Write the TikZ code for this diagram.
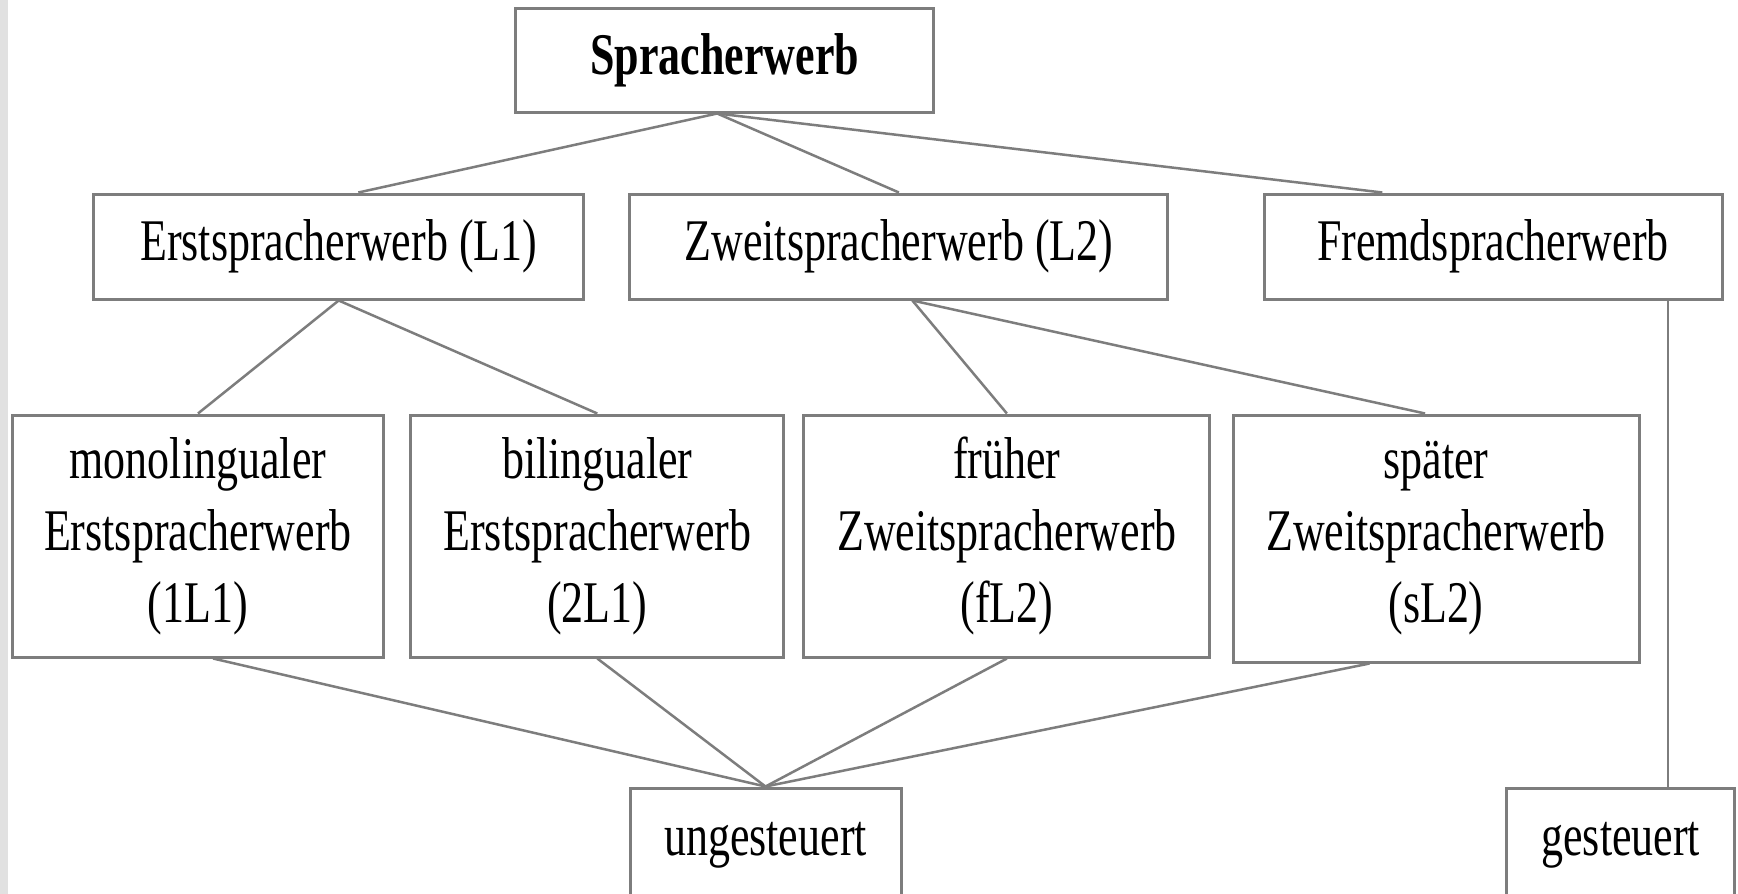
\documentclass[tikz,border=0pt]{standalone}
\usepackage{fontspec}
\setmainfont{Liberation Serif}[FakeStretch=0.745]
\definecolor{rahmen}{RGB}{125,125,125}
\definecolor{randgrau}{RGB}{225,225,225}

\begin{document}
\begin{tikzpicture}[x=0.1mm,y=-0.1mm]
	% Styles
	\tikzstyle{linie}=[-,draw=rahmen,line width=0.25mm]
	\tikzstyle{kasten}=[draw=rahmen,line width=0.3mm,align=center,inner sep=0pt,font=\fontsize{16.8}{20.5}\selectfont]
	\tikzstyle{flach}=[kasten,minimum height=10.5mm]
	\tikzstyle{hoch}=[kasten,minimum height=24.2mm]
	% Dimensionen
	\def\EbeneA{60}
	\def\EbeneB{246.5}
	\def\EbeneC{536}
	\def\EbeneD{845}
	% Rahmen
	\useasboundingbox (0,0) rectangle (1738,894);
	\fill[white] (0,0) rectangle (1738,894);
	\fill[randgrau] (0,0) rectangle (8,894);
	% Knoten
	\node[flach,minimum width=41.8mm,minimum height=10.4mm] (S) at (724.7,\EbeneA) {\textbf{Spracherwerb}};
	%
	\node[flach,minimum width=49mm] (L1) at (338.7,\EbeneB) {Erstspracherwerb (L1)};
	\node[flach,minimum width=53.8mm] (L2) at (898.9,\EbeneB) {Zweitspracherwerb (L2)};
	\node[flach,minimum width=45.8mm] (FS) at (1493,\EbeneB) {Fremdspracherwerb};
	%
	\node[hoch,minimum width=37.1mm] (L1a) at (198,\EbeneC) {monolingualer\\Erstspracherwerb\\(1L1)};
	\node[hoch,minimum width=37.3mm] (L1b) at (597.3,\EbeneC) {bilingualer\\Erstspracherwerb\\(2L1)};
	\node[hoch,minimum width=40.6mm] (L2a) at (1006.9,\EbeneC) {früher\\Zweitspracherwerb\\(fL2)};
	\node[hoch,minimum width=40.6mm,minimum height=24.7mm] (L2b) at (1436,538.5) {später\\Zweitspracherwerb\\(sL2)};
	%
	\node[flach,minimum width=27.1mm,minimum height=11.4mm] (U) at (765.5,\EbeneD) {ungesteuert};
	\node[flach,minimum width=22.8mm,minimum height=11.4mm] (G) at (1620.8,\EbeneD) {gesteuert};
	% Linien
	\draw[linie] (S.262)--(L1.70);
	\draw[linie] (S.262)--(L2.north);
	\draw[linie] (S.262)--(FS.154);
	\draw[linie] (L1.south)--(L1a.north);
	\draw[linie] (L1.south)--(L1b.north);
	\draw[linie] (L2.284)--(L2a.north);
	\draw[linie] (L2.284)--(L2b.95);
	\draw[linie] (L1a.277)--(U.north);
	\draw[linie] (L1b.south)--(U.north);
	\draw[linie] (L2a.south)--(U.north);
	\draw[linie] (L2b.242)--(U.north);
	\draw[linie] (FS.south -| G.51)--(G.51);
\end{tikzpicture}
\end{document}
